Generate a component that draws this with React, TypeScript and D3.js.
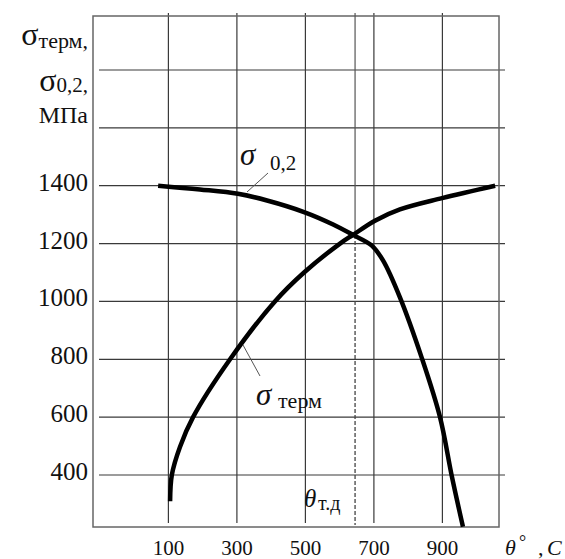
import React from "react";
import * as d3 from "d3";

// temperatures on the x axis, MPa on the y axis
const xTicks = [100, 300, 500, 700, 900];
const yTicks = [400, 600, 800, 1000, 1200, 1400];
const yGrid = [400, 600, 800, 1000, 1200, 1400, 1600, 1800];

// σ_терм curve
const termT = [105, 110, 134, 172, 280, 411, 496, 601, 639, 703, 776, 899, 1054];
const termS = [309, 400, 498, 600, 800, 1000, 1100, 1200, 1230, 1279, 1318, 1357, 1400];

// σ_0,2 curve
const yieldT = [70, 192, 303, 388, 496, 581, 639, 694, 727, 776, 840, 893, 928, 960];
const yieldS = [1400, 1387, 1372, 1349, 1309, 1266, 1230, 1193, 1141, 1014, 804, 600, 393, 221];

// θ т.д (crossing temperature) and the stress where the curves meet
const thetaTD = 645;
const crossS = 1230;

const W = 565;
const H = 559;
const FONT = '"Liberation Serif", "DejaVu Serif", serif';

export default function App() {
  const x = d3.scaleLinear().domain([100, 900]).range([168.4, 442.4]);
  const y = d3.scaleLinear().domain([400, 1800]).range([475, 70]);

  // frame
  const left = 93, right = 499, top = 16, bottom = 527;

  const line = d3
    .line<[number, number]>()
    .x((d) => x(d[0]))
    .y((d) => y(d[1]))
    .curve(d3.curveCatmullRom.alpha(0.5));

  const termPts = termT.map((t, i) => [t, termS[i]] as [number, number]);
  const yieldPts = yieldT.map((t, i) => [t, yieldS[i]] as [number, number]);

  const grid = "#3a3a3a";
  const txt = { fontFamily: FONT, fill: "#111" };

  return (
    <svg
      width={W}
      height={H}
      style={{ position: "absolute", left: 0, top: 0, background: "#fff", fontFamily: FONT }}
    >
      {/* horizontal grid */}
      {yGrid.map((v) => (
        <line key={"h" + v} x1={99} x2={505} y1={y(v)} y2={y(v)} stroke={grid} strokeWidth={1.2} />
      ))}
      {/* vertical grid */}
      {xTicks.map((v) => (
        <line key={"v" + v} x1={x(v)} x2={x(v)} y1={13} y2={523} stroke={grid} strokeWidth={1.2} />
      ))}
      {/* frame */}
      <rect x={left} y={top} width={right - left} height={bottom - top} fill="none" stroke="#666" strokeWidth={1.5} />

      {/* θ т.д marker: solid above crossing, dashed below */}
      <line x1={x(thetaTD)} x2={x(thetaTD)} y1={13} y2={y(crossS)} stroke="#555" strokeWidth={1.2} />
      <line
        x1={x(thetaTD)}
        x2={x(thetaTD)}
        y1={y(crossS)}
        y2={bottom - 2}
        stroke="#444"
        strokeWidth={1.3}
        strokeDasharray="4,2"
      />

      {/* curves */}
      <path d={line(termPts) || ""} fill="none" stroke="#000" strokeWidth={4.5} />
      <path d={line(yieldPts) || ""} fill="none" stroke="#000" strokeWidth={4.5} />

      {/* y tick labels */}
      {yTicks.map((v) => (
        <text key={"yl" + v} x={88} y={y(v) + 5} textAnchor="end" fontSize={25} style={txt}>
          {v}
        </text>
      ))}
      {/* x tick labels */}
      {xTicks.map((v) => (
        <text key={"xl" + v} x={x(v)} y={555} textAnchor="middle" fontSize={21} style={txt}>
          {v}
        </text>
      ))}

      {/* y axis title */}
      <text x={88} y={45} textAnchor="end" style={txt}>
        <tspan fontSize={32}>σ</tspan>
        <tspan fontSize={22} dy={3}>терм,</tspan>
      </text>
      <text x={88} y={91} textAnchor="end" style={txt}>
        <tspan fontSize={32}>σ</tspan>
        <tspan fontSize={21} dy={1}>0,2,</tspan>
      </text>
      <text x={88} y={123} textAnchor="end" fontSize={24} style={txt}>
        МПа
      </text>

      {/* x axis title */}
      <text y={555} fontSize={22} style={txt}>
        <tspan x={505} fontStyle="italic">θ</tspan>
        <tspan x={519} dy={-7} fontSize={18}>°</tspan>
        <tspan x={538} dy={7}>,</tspan>
        <tspan x={547} fontStyle="italic">C</tspan>
      </text>

      {/* θ т.д label */}
      <text y={507} style={txt}>
        <tspan x={304} fontSize={25} fontStyle="italic">θ</tspan>
        <tspan x={318} dy={3} fontSize={20}>т.д</tspan>
      </text>

      {/* curve labels with leader lines */}
      <line x1={268} y1={173} x2={247} y2={192} stroke="#555" strokeWidth={1} />
      <text y={165} style={txt}>
        <tspan x={240} fontSize={31} fontStyle="italic">σ</tspan>
        <tspan x={270} dy={5} fontSize={21}>0,2</tspan>
      </text>

      <line x1={260} y1={376} x2={243} y2={345} stroke="#555" strokeWidth={1} />
      <text y={405} style={txt}>
        <tspan x={256} fontSize={31} fontStyle="italic">σ</tspan>
        <tspan x={278} dy={3} fontSize={22}>терм</tspan>
      </text>
    </svg>
  );
}
